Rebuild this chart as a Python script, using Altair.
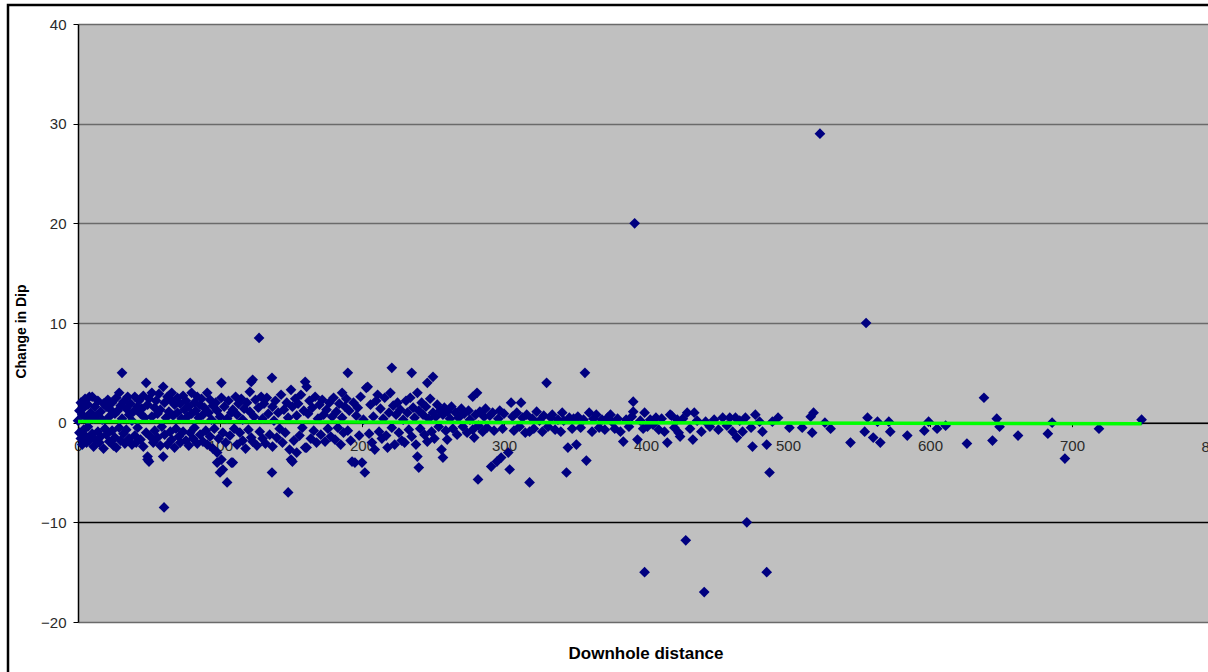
import altair as alt
import pandas as pd

# (downhole distance, change in dip), by segment
seg_0_100 = [
    (0,0.2),(1,1.2),(1,-1.0),(2,2.0),(2,-1.6),(3,0.8),(3,-2.2),(4,1.5),(4,-0.7),(5,2.4),
    (5,-1.3),(6,0.5),(6,-2.0),(7,1.8),(7,-0.4),(8,2.6),(8,-1.8),(9,1.0),(10,-1.1),(10,2.6),
    (11,0.4),(11,-2.4),(12,1.6),(12,-1.7),(13,0.7),(14,-0.9),(14,2.2),(15,-2.0),(16,1.1),(16,-1.4),
    (17,0.3),(18,1.9),(18,-2.6),(19,-0.6),(20,1.6),(20,-1.2),(21,2.3),(22,0.6),(22,-1.9),(23,1.3),
    (24,-0.8),(24,2.0),(25,-2.3),(26,0.9),(26,-1.5),(27,2.5),(27,-2.5),(28,1.2),(29,-0.5),(29,3.0),
    (30,1.7),(30,-1.8),(31,5.0),(31,0.4),(32,-1.1),(32,2.1),(33,-2.1),(34,1.4),(34,-0.7),(35,2.6),
    (36,-1.6),(36,0.8),(37,1.9),(38,-2.2),(38,0.2),(39,1.1),(40,2.6),(40,-1.3),(41,-2.0),(42,1.6),
    (42,-0.5),(43,2.2),(44,-1.7),(44,0.9),(45,1.4),(46,-2.4),(46,2.7),(47,0.5),(48,-1.0),(48,4.0),
    (49,-3.4),(49,-3.7),(49,1.8),(50,-3.9),(50,2.4),(51,-1.4),(52,3.0),(52,0.6),(53,-2.0),(54,1.5),
    (54,-0.8),(55,2.2),(56,-1.5),(56,0.9),(57,2.9),(58,-2.3),(58,1.3),(59,-0.4),(60,3.6),(60,-3.4),
    (60.6,-8.5),(61,2.0),(61,-1.2),(62,0.5),(63,2.6),(63,-2.2),(64,1.1),(65,-0.9),(65,2.3),(66,3.0),
    (66,-1.7),(67,0.7),(68,1.8),(68,-2.5),(69,-0.6),(70,2.5),(70,1.0),(71,-1.4),(72,1.9),(72,-2.0),
    (73,0.4),(74,2.7),(74,-0.9),(75,1.3),(76,-1.8),(76,2.2),(77,0.6),(78,-2.3),(78,1.6),(79,4.0),
    (79,-1.0),(80,3.0),(80,0.9),(81,-1.6),(82,2.0),(82,-0.5),(83,1.2),(84,-2.1),(84,2.6),(85,0.5),
    (86,-1.2),(86,1.8),(87,2.4),(88,-1.9),(88,0.8),(89,1.5),(90,-0.8),(91,3.0),(91,-2.2),(92,1.0),
    (93,-1.4),(93,2.3),(94,0.3),(95,1.7),(95,-2.6),(96,-0.6),(97,2.0),(98,-3.0),(98,-4.0),(98,1.2),
    (99,-1.6),(100,-5.0),(100,0.6),(101,4.0),(101,2.5),(101,-3.7),(102,-4.7),(102,-1.0),
]

seg_100_200 = [
    (103,1.6),(104,-2.0),(105,-6.0),(105,0.4),(106,2.2),(107,-1.3),(108,-4.0),(108,1.0),(109,1.3),(109,-4.0),
    (110,-0.6),(111,2.6),(112,-2.2),(112,0.8),(113,1.9),(114,-1.0),(115,2.4),(116,-1.8),(116,0.3),(117,1.4),
    (118,-2.6),(119,2.0),(120,-0.7),(121,3.1),(121,1.1),(122,4.1),(122,-1.5),(123,4.3),(123,-1.9),(124,0.6),
    (125,2.3),(126,-2.3),(127.5,8.5),(127,1.5),(128,-0.9),(129,2.6),(130,-1.6),(130,0.4),(131,1.9),(132,-2.1),
    (133,2.5),(134,0.9),(135,-1.2),(136.6,4.5),(136.6,-5.0),(137,1.6),(137,-2.4),(138,0.2),(139,2.2),(140,-1.5),
    (141,1.0),(142,-0.6),(143,2.8),(144,-2.0),(145,1.3),(146,-1.0),(147,2.0),(148,-7.0),(148,0.5),(149,-2.7),
    (150,3.3),(150,-3.7),(151,-3.9),(151,1.6),(152,-1.8),(153,2.4),(154,-3.0),(154,0.7),(155,1.9),(156,-1.3),
    (157,2.8),(158,-0.5),(159,1.2),(160,4.1),(160,-2.5),(161,3.6),(161,-2.5),(162,0.9),(163,2.2),(164,-1.6),
    (165,1.5),(166,-0.8),(167,2.6),(168,-2.0),(169,0.4),(170,1.8),(171,-1.2),(172,2.3),(173,0.8),(174,-1.9),
    (175,1.3),(176,-0.6),(177,2.0),(178,-1.4),(179,0.6),(180,2.5),(181,-1.7),(182,1.1),(183,-0.5),(184,1.9),
    (185,-2.2),(186,3.0),(186,0.5),(187,-1.0),(188,1.6),(189,2.4),(190,5.0),(190,-0.8),(191,1.2),(192,-1.8),
    (193,-3.9),(194,2.0),(195,-4.0),(196,0.7),(197,1.5),(198,-1.3),(199,2.6),(200,-4.0),(201,0.3),(202,-5.0),
]

seg_200_300 = [
    (203,3.5),(204,3.6),(205,-1.1),(206,1.8),(207,-2.0),(208,0.6),(209,-2.7),(210,2.2),(211,2.8),(212,-0.9),
    (213,1.4),(214,-1.6),(215,0.4),(216,2.5),(217,-1.3),(218,-2.5),(219,1.0),(220,3.0),(221,5.5),(221,-0.5),
    (222,1.7),(223,-2.2),(224,0.8),(225,2.0),(226,-1.0),(227,1.3),(228,-1.8),(229,0.3),(230,-2.0),(231,2.2),
    (232,1.0),(233,-0.7),(234,2.5),(235,5.0),(235,-1.4),(236,1.5),(237,0.5),(238,-2.2),(239,3.0),(239,-3.4),
    (240,-4.5),(240,1.2),(241,-0.6),(242,2.0),(243,0.8),(244,-1.2),(245,1.6),(246,4.0),(246,-1.9),(247,0.4),
    (248,2.4),(249,-0.9),(250,4.6),(250,1.0),(251,-1.6),(252,0.6),(253,1.8),(254,-0.4),(255,1.2),(256,-2.7),
    (257,-3.5),(257,0.8),(258,1.5),(259,-0.8),(260,-1.7),(260,1.1),(262,0.4),(263,1.6),(264,-0.6),(266,1.0),
    (267,-1.2),(268,0.5),(270,1.4),(271,-0.4),(272,0.9),(274,-1.0),(275,1.2),(276,0.3),(278,2.6),(278,-0.7),
    (279,-1.5),(280,0.8),(281,3.0),(281.7,-5.7),(282,-0.3),(283,1.1),(285,-0.9),(286,0.6),(287,1.4),(288,-0.5),
    (290,0.7),(291,-4.4),(292,1.0),(293,-0.8),(295,-3.9),(296,0.4),(297,1.2),(298,-3.5),(299,-0.6),(300,0.9),
]

seg_300_410 = [
    (303,-3.0),(304,-4.7),(305,2.0),(306,0.6),(307,-0.8),(309,1.0),(311,-0.4),(312,2.0),(313,0.5),(315,-1.0),
    (316,0.8),(318,-0.9),(318,-6.0),(320,0.4),(321,-0.6),(323,1.1),(325,0.2),(327,-0.9),(328,0.7),(330,4.0),
    (331,-0.4),(333,0.5),(334,0.8),(336,-0.7),(338,0.3),(340,-0.9),(341,1.0),(342,0.2),(344,-5.0),(345,-2.5),
    (346,0.5),(348,-0.6),(349,0.4),(351,-2.2),(352,0.6),(354,-0.5),(356,0.3),(357,5.0),(358,-3.8),(360,1.0),
    (362,-0.9),(363,0.4),(365,0.8),(367,-0.5),(369,0.3),(371,-0.7),(373,0.5),(375,0.8),(376,0.1),(378,-0.6),
    (380,0.4),(382,-0.9),(384,-1.9),(386,0.3),(388,-0.4),(390,0.6),(391,2.1),(391,1.1),(392,20.0),(394,-1.7),
    (396,0.2),(398,-0.6),(399,1.0),(399,-15.0),(401,-0.4),(403,0.3),(405,-0.2),(407,0.5),(409,-0.7),(411,0.4),
]

seg_410_750 = [
    (413,-0.9),(415,-2.0),(417,0.8),(418,0.7),(420,-0.5),(422,0.3),(423,-1.0),(424,-1.4),(426,0.4),(428,-11.8),
    (429,1.0),(431,-0.6),(433,-1.7),(434,1.0),(436,0.2),(439,-0.9),(441,-17.0),(442,0.1),(445,-0.4),(448,0.3),
    (451,-0.7),(454,0.5),(457,-0.3),(459,0.5),(461,-0.9),(463,0.5),(464,-1.5),(466,0.2),(468,-0.9),(470,0.5),
    (471,-10.0),(474,-0.5),(475,-2.4),(477,0.8),(480,0.1),(482,-0.9),(485,-15.0),(485,-2.2),(487,-5.0),(489,0.1),
    (493,0.5),(501,-0.5),(510,-0.5),(516,0.6),(518,1.0),(517,-1.0),(522.5,29.0),(526,0.0),(530,-0.6),(544,-2.0),
    (554,-0.9),(555,10.0),(556,0.5),(560,-1.5),(563,0.1),(565,-2.0),(571,0.1),(572,-0.9),(584,-1.3),(596,-0.8),
    (599,0.1),(605,-0.6),(611,-0.3),(626,-2.1),(638,2.5),(644,-1.8),(647,0.4),(649,-0.4),(662,-1.3),(683,-1.1),
    (686,0.0),(695,-3.6),(719,-0.6),(749,0.3),
]

trend_dist = [0, 749]
trend_dip = [0.12, -0.12]

x_ticks = [0, 100, 200, 300, 400, 500, 600, 700]
x_cut_tick = [800]
y_ticks = [-20, -10, 0, 10, 20, 30, 40]

points = pd.DataFrame(seg_0_100 + seg_100_200 + seg_200_300 + seg_300_410 + seg_410_750,
                      columns=["dist", "dip"])
trend = pd.DataFrame({"dist": trend_dist, "dip": trend_dip})
cut_df = pd.DataFrame({"dist": x_cut_tick, "dip": [0] * len(x_cut_tick),
                       "lab": [str(v) for v in x_cut_tick]})
frame_df = pd.DataFrame({"k": [0]})

FONT = "Liberation Sans"
W, H = 1130, 598
FRAME_BOTTOM = H + 60
xs = alt.Scale(domain=[0, 800 * W / 1136], nice=False, zero=False)
ys = alt.Scale(domain=[-20, 40], nice=False, zero=False)

x_axis = alt.Axis(values=x_ticks, offset=-H * 20 / 60, title=None, grid=False,
                  domainColor="#000000", domainWidth=1.5, tickColor="#000000", tickSize=4,
                  labelPadding=12, labelFont=FONT, labelFontSize=15, labelColor="#2a2a2a",
                  labelFlush=False, labelOverlap=False)
y_axis = alt.Axis(values=y_ticks, title="Change in Dip", grid=True,
                  gridColor={"condition": {"test": "datum.value === -10", "value": "#000000"},
                             "value": "#6a6a6a"},
                  gridWidth=1.3, domainColor="#000000", domainWidth=1.5,
                  tickColor="#000000", tickSize=5, labelPadding=7,
                  labelFont=FONT, labelFontSize=15, labelColor="#2a2a2a",
                  titleFont=FONT, titleFontSize=14, titleFontWeight="bold", titleColor="#000000",
                  titlePadding=12, titleY=H / 2 + 8)

frame = alt.Chart(frame_df).mark_rect(fillOpacity=0, stroke="#000000", strokeWidth=2.5).encode(
    x=alt.value(-70), x2=alt.value(W + 40), y=alt.value(-19), y2=alt.value(FRAME_BOTTOM)
)

pts = alt.Chart(points).mark_point(shape="diamond", filled=True, color="#000080",
                                   size=115, opacity=1).encode(
    x=alt.X("dist:Q", scale=xs, axis=x_axis),
    y=alt.Y("dip:Q", scale=ys, axis=y_axis),
)

line = alt.Chart(trend).mark_line(color="#00ff00", strokeWidth=3.5).encode(
    x=alt.X("dist:Q", scale=xs),
    y=alt.Y("dip:Q", scale=ys),
)

cut_label = alt.Chart(cut_df).mark_text(font=FONT, fontSize=15, color="#2a2a2a",
                                        baseline="top", dy=17).encode(
    x=alt.X("dist:Q", scale=xs),
    y=alt.Y("dip:Q", scale=ys),
    text="lab:N",
)

chart = alt.layer(pts, line, cut_label, frame).properties(
    width=W, height=H,
    autosize=alt.AutoSizeParams(type="none"),
    padding={"left": 78, "top": 24, "right": 0, "bottom": 50},
    title=alt.TitleParams("Downhole distance", orient="bottom", anchor="middle", frame="group",
                          offset=-37, dx=3, fontSize=17, fontWeight="bold", font=FONT,
                          color="#000000"),
).configure_view(fill="#c0c0c0", stroke=None)

chart.save("out.html", embed_options={"renderer": "svg", "actions": False})
